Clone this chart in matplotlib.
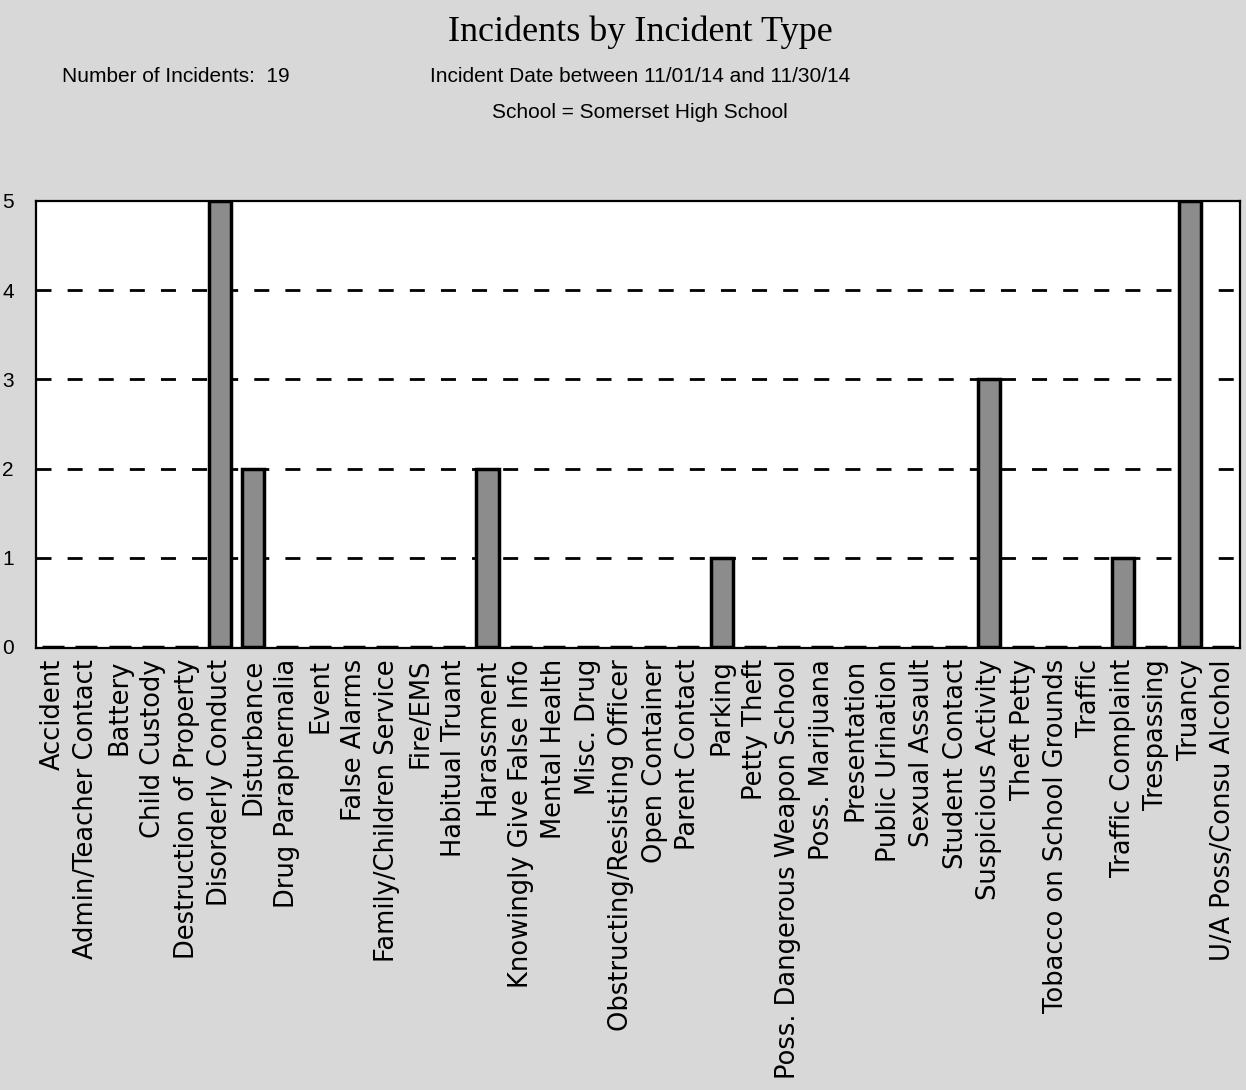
import matplotlib
matplotlib.use("Agg")
import matplotlib.pyplot as plt
import numpy as np

categories = ["Accident", "Admin/Teacher Contact", "Battery", "Child Custody",
              "Destruction of Property", "Disorderly Conduct", "Disturbance",
              "Drug Paraphernalia", "Event", "False Alarms", "Family/Children Service",
              "Fire/EMS", "Habitual Truant", "Harassment", "Knowingly Give False Info",
              "Mental Health", "Misc. Drug", "Obstructing/Resisting Officer",
              "Open Container", "Parent Contact", "Parking", "Petty Theft",
              "Poss. Dangerous Weapon School", "Poss. Marijuana", "Presentation",
              "Public Urination", "Sexual Assault", "Student Contact",
              "Suspicious Activity", "Theft Petty", "Tobacco on School Grounds",
              "Traffic", "Traffic Complaint", "Trespassing", "Truancy",
              "U/A Poss/Consu Alcohol"]
counts = [0, 0, 0, 0, 0, 5, 2, 0, 0, 0, 0, 0, 0, 2, 0, 0, 0, 0, 0, 0, 1, 0,
          0, 0, 0, 0, 0, 0, 3, 0, 0, 0, 1, 0, 5, 0]
yticks = [0, 1, 2, 3, 4, 5]

BG = "#d8d8d8"
BAR = "#8c8c8c"
sans = ["Liberation Sans Narrow", "Liberation Sans", "DejaVu Sans"]

fig = plt.figure(figsize=(12.46, 10.9), dpi=100, facecolor=BG)
ax = fig.add_axes([36/1246, 1-648/1090, (1240-36)/1246, (648-201)/1090])
ax.set_facecolor("white")

x = np.arange(len(categories))
ax.bar(x, counts, width=0.66, color=BAR, edgecolor="black", linewidth=2.5, zorder=3)
ax.set_xlim(-0.5, len(categories) - 0.5)
ax.set_ylim(-0.012, 5)
ax.set_yticks(yticks)
ax.set_yticklabels([str(v) for v in yticks], fontsize=15, family=sans)
ax.tick_params(axis="y", length=0, pad=16)
ax.set_xticks(x)
ax.set_xticklabels(categories, rotation=90, fontsize=18.5, family=["DejaVu Sans"],
                   va="top", ha="center")
ax.tick_params(axis="x", length=0, pad=8)
for v in yticks[1:-1]:
    ax.axhline(v, color="black", linewidth=2, linestyle=(0, (5.4, 5.8)), zorder=2)
for s in ax.spines.values():
    s.set_linewidth(1.6)
    s.set_color("black")

fig.text(640/1246, 1-32/1090, "Incidents by Incident Type", ha="center", va="center",
         fontsize=26, family=["Liberation Serif", "DejaVu Serif"])
fig.text(62/1246, 1-77/1090, "Number of Incidents:  19", ha="left", va="center",
         fontsize=15, family=sans)
fig.text(640/1246, 1-77/1090, "Incident Date between 11/01/14 and 11/30/14",
         ha="center", va="center", fontsize=15, family=sans)
fig.text(640/1246, 1-113/1090, "School = Somerset High School",
         ha="center", va="center", fontsize=15, family=sans)

fig.savefig("out.png", dpi=100, facecolor=BG)
